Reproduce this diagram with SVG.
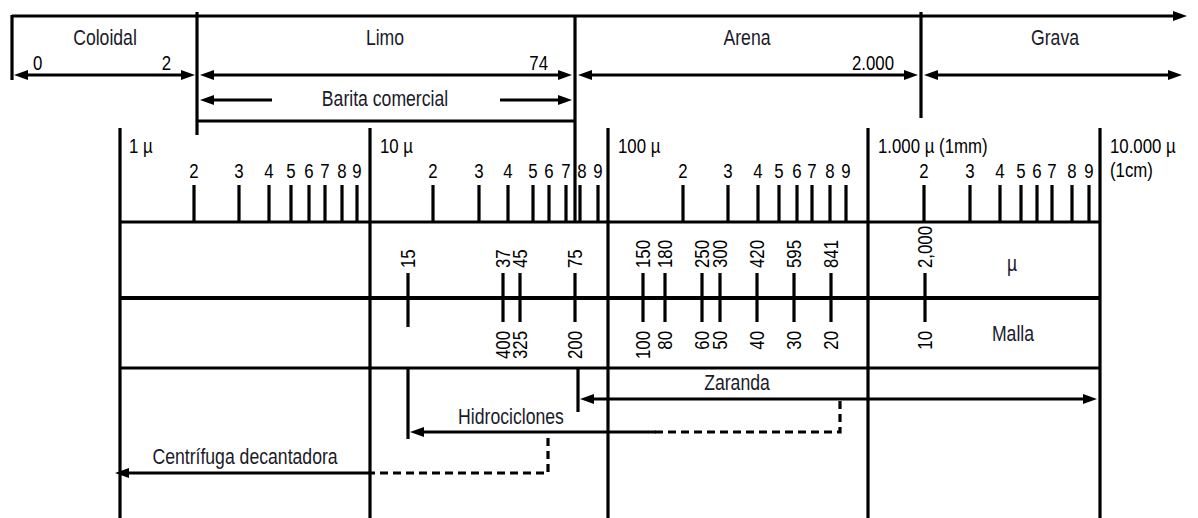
<svg xmlns="http://www.w3.org/2000/svg" width="1198" height="518" viewBox="0 0 1198 518">
<defs>
<marker id="ah" markerUnits="userSpaceOnUse" viewBox="0 0 14 10" refX="8" refY="5" markerWidth="14" markerHeight="10" orient="auto-start-reverse">
<path d="M0,0 L14,5 L0,10 z" fill="#000"/>
</marker>
<style>
.t{font-family:"Liberation Sans",Arial,sans-serif;font-size:21.5px;fill:#1a1a2a}
.n{font-family:"Liberation Sans",Arial,sans-serif;font-size:20.5px;fill:#000}
.m{text-anchor:middle}
.e{text-anchor:end}
.l{stroke:#000;stroke-width:3.2;fill:none}
.d{stroke:#000;stroke-width:3.2;fill:none;stroke-dasharray:8 5}
.a{stroke:#000;stroke-width:3.2;fill:none;marker-end:url(#ah)}
.aa{stroke:#000;stroke-width:3.2;fill:none;marker-start:url(#ah);marker-end:url(#ah)}
</style>
</defs>
<rect width="1198" height="518" fill="#fff"/>

<g id="clases">
<line class="l" x1="12" y1="16" x2="1181" y2="16" marker-end="url(#ah)"/>
<line class="l" x1="12" y1="15" x2="12" y2="80"/>
<line class="l" x1="197" y1="12" x2="197" y2="135"/>
<line class="l" x1="575" y1="15" x2="575" y2="222"/>
<line class="l" x1="921" y1="12" x2="921" y2="118"/>
<line class="l" x1="197" y1="121" x2="575" y2="121"/>
<text class="t m" transform="translate(105,45) scale(0.82,1)">Coloidal</text>
<text class="t m" transform="translate(385,45) scale(0.82,1)">Limo</text>
<text class="t m" transform="translate(747,45) scale(0.82,1)">Arena</text>
<text class="t m" transform="translate(1055,45) scale(0.82,1)">Grava</text>
<text class="n" transform="translate(33,70) scale(0.82,1)">0</text>
<text class="n e" transform="translate(171,70) scale(0.82,1)">2</text>
<text class="n e" transform="translate(548,70) scale(0.82,1)">74</text>
<text class="n e" transform="translate(894,70) scale(0.82,1)">2.000</text>
<text class="t m" transform="translate(385,106) scale(0.82,1)">Barita comercial</text>
</g>

<g id="escala">
<g class="l">
<line x1="120" y1="128" x2="120" y2="518"/>
<line x1="370" y1="128" x2="370" y2="518"/>
<line x1="608" y1="128" x2="608" y2="518"/>
<line x1="868" y1="128" x2="868" y2="518"/>
<line x1="1100" y1="128" x2="1100" y2="518"/>
<line x1="120" y1="222" x2="1100" y2="222"/>
<line x1="120" y1="298" x2="1100" y2="298" stroke-width="4"/>
<line x1="120" y1="368" x2="1100" y2="368"/>
</g>
<text class="n" transform="translate(129,153) scale(0.82,1)">1 µ</text>
<text class="n" transform="translate(380,153) scale(0.82,1)">10 µ</text>
<text class="n" transform="translate(618,153) scale(0.82,1)">100 µ</text>
<text class="n" transform="translate(878,153) scale(0.82,1)">1.000 µ (1mm)</text>
<text class="n" transform="translate(1110,153) scale(0.82,1)">10.000 µ</text>
<text class="n" transform="translate(1110,177) scale(0.82,1)">(1cm)</text>
<path class="l" d="M194,185V222M239,185V222M269,185V222M291,185V222M309,185V222M325,185V222M342,185V222M357,185V222
M433,185V222M479,185V222M508,185V222M533,185V222M549,185V222M566,185V222M580,185V222M598,185V222
M683,185V222M728,185V222M758,185V222M779,185V222M797,185V222M812,185V222M830,185V222M846,185V222
M924,185V222M970,185V222M1000,185V222M1021,185V222M1037,185V222M1052,185V222M1072,185V222M1089,185V222"/>
<g class="n m">
<text transform="translate(194,178) scale(0.82,1)">2</text><text transform="translate(239,178) scale(0.82,1)">3</text><text transform="translate(269,178) scale(0.82,1)">4</text><text transform="translate(291,178) scale(0.82,1)">5</text><text transform="translate(309,178) scale(0.82,1)">6</text><text transform="translate(325,178) scale(0.82,1)">7</text><text transform="translate(342,178) scale(0.82,1)">8</text><text transform="translate(357,178) scale(0.82,1)">9</text>
<text transform="translate(433,178) scale(0.82,1)">2</text><text transform="translate(479,178) scale(0.82,1)">3</text><text transform="translate(508,178) scale(0.82,1)">4</text><text transform="translate(533,178) scale(0.82,1)">5</text><text transform="translate(549,178) scale(0.82,1)">6</text><text transform="translate(566,178) scale(0.82,1)">7</text><text transform="translate(582,178) scale(0.82,1)">8</text><text transform="translate(598,178) scale(0.82,1)">9</text>
<text transform="translate(683,178) scale(0.82,1)">2</text><text transform="translate(728,178) scale(0.82,1)">3</text><text transform="translate(758,178) scale(0.82,1)">4</text><text transform="translate(779,178) scale(0.82,1)">5</text><text transform="translate(797,178) scale(0.82,1)">6</text><text transform="translate(812,178) scale(0.82,1)">7</text><text transform="translate(830,178) scale(0.82,1)">8</text><text transform="translate(846,178) scale(0.82,1)">9</text>
<text transform="translate(924,178) scale(0.82,1)">2</text><text transform="translate(970,178) scale(0.82,1)">3</text><text transform="translate(1000,178) scale(0.82,1)">4</text><text transform="translate(1021,178) scale(0.82,1)">5</text><text transform="translate(1037,178) scale(0.82,1)">6</text><text transform="translate(1052,178) scale(0.82,1)">7</text><text transform="translate(1072,178) scale(0.82,1)">8</text><text transform="translate(1089,178) scale(0.82,1)">9</text>
</g>
</g>

<g id="tamices">
<path class="l" d="M408,273V327M503,273V322M520,273V322M575,273V322M643,273V322M665,273V322M702,273V322M720,273V322M757,273V322M794,273V322M831,273V322M925,273V322"/>
<g class="n">
<text transform="translate(415,268) rotate(-90) scale(0.82,1)">15</text>
<text transform="translate(510,268) rotate(-90) scale(0.82,1)">37</text>
<text transform="translate(527,268) rotate(-90) scale(0.82,1)">45</text>
<text transform="translate(582,268) rotate(-90) scale(0.82,1)">75</text>
<text transform="translate(650,268) rotate(-90) scale(0.82,1)">150</text>
<text transform="translate(672,268) rotate(-90) scale(0.82,1)">180</text>
<text transform="translate(709,268) rotate(-90) scale(0.82,1)">250</text>
<text transform="translate(727,268) rotate(-90) scale(0.82,1)">300</text>
<text transform="translate(764,268) rotate(-90) scale(0.82,1)">420</text>
<text transform="translate(801,268) rotate(-90) scale(0.82,1)">595</text>
<text transform="translate(838,268) rotate(-90) scale(0.82,1)">841</text>
<text transform="translate(932,268) rotate(-90) scale(0.82,1)">2,000</text>
</g>
<g class="n e">
<text transform="translate(510,331) rotate(-90) scale(0.82,1)">400</text>
<text transform="translate(527,331) rotate(-90) scale(0.82,1)">325</text>
<text transform="translate(582,331) rotate(-90) scale(0.82,1)">200</text>
<text transform="translate(650,331) rotate(-90) scale(0.82,1)">100</text>
<text transform="translate(672,331) rotate(-90) scale(0.82,1)">80</text>
<text transform="translate(709,331) rotate(-90) scale(0.82,1)">60</text>
<text transform="translate(727,331) rotate(-90) scale(0.82,1)">50</text>
<text transform="translate(764,331) rotate(-90) scale(0.82,1)">40</text>
<text transform="translate(801,331) rotate(-90) scale(0.82,1)">30</text>
<text transform="translate(838,331) rotate(-90) scale(0.82,1)">20</text>
<text transform="translate(932,331) rotate(-90) scale(0.82,1)">10</text>
</g>
<text class="t m" transform="translate(1012,271) scale(0.82,1)">µ</text>
<text class="t m" transform="translate(1013,341) scale(0.82,1)">Malla</text>
</g>

<g id="equipos">
<line class="l" x1="578" y1="369" x2="578" y2="412"/>
<line class="l" x1="408" y1="369" x2="408" y2="439"/>
<text class="t m" transform="translate(737,390) scale(0.82,1)">Zaranda</text>
<text class="t m" transform="translate(511,424) scale(0.82,1)">Hidrociclones</text>
<text class="t m" transform="translate(245,464) scale(0.82,1)">Centrífuga decantadora</text>
</g>

<g id="conectores">
<line class="aa" x1="20" y1="75" x2="189" y2="75"/>
<line class="aa" x1="206" y1="75" x2="566" y2="75"/>
<line class="aa" x1="584" y1="75" x2="912" y2="75"/>
<line class="aa" x1="930" y1="75" x2="1176" y2="75"/>
<line class="a" x1="272" y1="100" x2="206" y2="100"/>
<line class="a" x1="500" y1="100" x2="566" y2="100"/>
<line class="aa" x1="586" y1="399" x2="1091" y2="399"/>
<path class="d" d="M840,401V432H655"/>
<line class="a" x1="656" y1="432" x2="416" y2="432"/>
<path class="d" d="M548,438V473H370"/>
<line class="a" x1="371" y1="473" x2="121" y2="473"/>
</g>
</svg>
